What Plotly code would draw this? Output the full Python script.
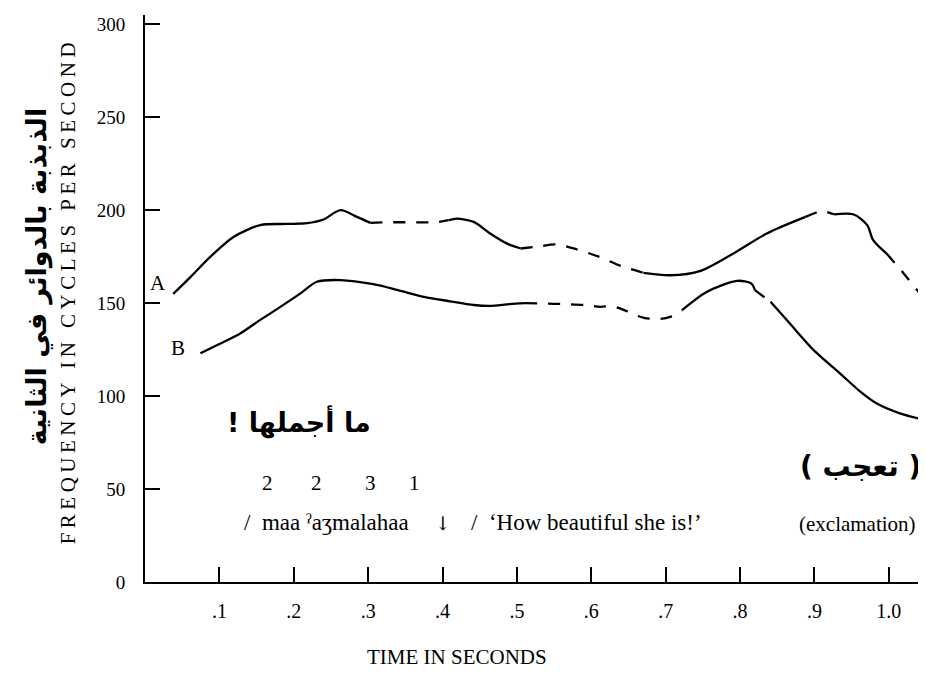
import plotly.graph_objects as go

# curve A: pitch contour (time in s, frequency in Hz)
a_time = [0.038, 0.061, 0.088, 0.119, 0.155, 0.19, 0.218, 0.240, 0.263, 0.285, 0.303,
          0.33, 0.36, 0.39, 0.408, 0.419, 0.442, 0.464, 0.487, 0.505,
          0.53, 0.552, 0.58, 0.61, 0.64, 0.670, 0.706, 0.747, 0.791, 0.836, 0.888,
          0.91, 0.926, 0.953, 0.971, 0.979, 0.997, 1.02, 1.046]
a_freq = [155, 164, 175, 185.6, 192, 192.6, 193, 195, 200, 196.4, 193.2,
          193.5, 193.5, 193.5, 194.6, 195.5, 193.7, 187.5, 182, 179.4,
          180.5, 181.6, 179, 175, 170, 166.3, 165, 167.4, 176.7, 187.5, 196.4,
          199.5, 197.8, 197.7, 192, 183.9, 176.7, 166, 153]
a_dashed = [(0.303, 0.408), (0.505, 0.670), (0.888, 0.926), (0.997, 1.05)]

# curve B
b_time = [0.0745, 0.10, 0.128, 0.155, 0.182, 0.21, 0.231, 0.263, 0.307, 0.34, 0.375,
          0.41, 0.442, 0.464, 0.49, 0.511, 0.536, 0.563, 0.592, 0.612, 0.628, 0.646,
          0.66, 0.672, 0.692, 0.706, 0.722, 0.755, 0.796, 0.815, 0.820, 0.841, 0.867,
          0.899, 0.935, 0.96, 0.984, 1.015, 1.05]
b_freq = [123, 128, 133.7, 141, 148, 155.5, 161.5, 162.4, 160.2, 157, 153.4,
          151, 149, 148.5, 149.5, 150, 149.8, 149.5, 149, 148, 148.4, 146,
          143.5, 142, 141.5, 142.6, 146.2, 156, 162, 160.6, 157, 150.7, 139,
          124.7, 112, 103, 96, 90.7, 87]
b_dashed = [(0.511, 0.722), (0.820, 0.841)]

x_ticks = [0.1, 0.2, 0.3, 0.4, 0.5, 0.6, 0.7, 0.8, 0.9, 1.0]
x_labels = ['.1', '.2', '.3', '.4', '.5', '.6', '.7', '.8', '.9', '1.0']
y_ticks = [0, 50, 100, 150, 200, 250, 300]

tone_marks = ['2', '2', '3', '1']
tone_time = [0.1645, 0.230, 0.303, 0.362]

SERIF = 'Liberation Serif, DejaVu Serif, serif'
ARABIC = 'DejaVu Sans, sans-serif'
RLE, PDF = '\u202b', '\u202c'


def split_runs(t, f, dashed):
    # group consecutive segments into solid / dashed runs
    def is_dash(i):
        mid = (t[i] + t[i + 1]) / 2
        return any(lo <= mid <= hi for lo, hi in dashed)

    runs = []
    cur = [0]
    style = is_dash(0)
    for i in range(len(t) - 1):
        s = is_dash(i)
        if s != style:
            runs.append((style, cur))
            cur = [i]
            style = s
        cur.append(i + 1)
    runs.append((style, cur))
    return [([t[k] for k in idx], [f[k] for k in idx], st) for st, idx in runs]


fig = go.Figure()

for t, f, dashed in [(a_time, a_freq, a_dashed), (b_time, b_freq, b_dashed)]:
    for xs, ys, st in split_runs(t, f, dashed):
        fig.add_trace(
            go.Scatter(
                x=xs, y=ys, mode='lines',
                line=dict(color='black', width=2.3, shape='spline', smoothing=0.8,
                          dash='12px,11px' if st else 'solid'),
                hoverinfo='skip', showlegend=False
            )
        )

ann = []
ann.append(dict(x=0.017, y=161, text='A', font=dict(size=21)))
ann.append(dict(x=0.045, y=126, text='B', font=dict(size=21)))
ann.append(dict(x=0.207, y=86, text=RLE + 'ما أجملها !' + PDF,
                font=dict(family=ARABIC, size=27, weight='bold')))
for m, tt in zip(tone_marks, tone_time):
    ann.append(dict(x=tt, y=53, text=m, font=dict(size=21)))
ann.append(dict(x=0.131, y=32, xanchor='left',
                text='/  maa ˀaʒmalahaa', font=dict(size=23)))
ann.append(dict(x=0.401, y=32, text='↓', font=dict(family='DejaVu Serif', size=19)))
ann.append(dict(x=0.436, y=32, xanchor='left',
                text='/  ‘How beautiful she is!’', font=dict(size=23)))
ann.append(dict(x=0.962, y=62, text=RLE + '( تعجب )' + PDF,
                font=dict(family=ARABIC, size=28, weight='bold')))
ann.append(dict(x=0.958, y=31, text='(exclamation)', font=dict(size=21)))

for a in ann:
    a.setdefault('xref', 'x')
    a.setdefault('yref', 'y')
    a.setdefault('showarrow', False)
    a['font'].setdefault('family', SERIF)
    a['font'].setdefault('color', 'black')
    fig.add_annotation(**a)

# axis titles
fig.add_annotation(x=0.42, xref='x', y=-0.132, yref='paper', yanchor='middle',
                   showarrow=False, text='TIME IN SECONDS',
                   font=dict(family=SERIF, size=21, color='black'))
fig.add_annotation(x=-0.117, xref='paper', y=0.512, yref='paper', showarrow=False,
                   textangle=-90,
                   text='<span style="letter-spacing:4.5px">FREQUENCY IN CYCLES PER SECOND</span>',
                   font=dict(family=SERIF, size=21, color='black'))
fig.add_annotation(x=-0.162, xref='paper', y=0.54, yref='paper', showarrow=False,
                   textangle=-90, text='الذبذبة بالدوائر في الثانية',
                   font=dict(family=ARABIC, size=27, weight='bold', color='black'))

fig.update_xaxes(
    range=[0, 1.05], showline=True, linecolor='black', linewidth=2,
    tickmode='array', tickvals=x_ticks, ticktext=x_labels,
    ticks='inside', ticklen=15, tickwidth=2, tickcolor='black',
    ticklabelstandoff=10, showgrid=False, zeroline=False, automargin=False,
    tickfont=dict(family=SERIF, size=20, color='black')
)
fig.update_yaxes(
    range=[0, 305], showline=True, linecolor='black', linewidth=2,
    tickmode='array', tickvals=y_ticks,
    ticks='inside', ticklen=15, tickwidth=2, tickcolor='black',
    ticklabelstandoff=14, showgrid=False, zeroline=False, automargin=False,
    tickfont=dict(family=SERIF, size=19, color='black')
)

# the page body adds an 8px margin, so the figure is drawn 8px smaller
fig.update_layout(
    width=918, height=667,
    margin=dict(l=137, r=0, t=7, b=93),
    plot_bgcolor='white', paper_bgcolor='white',
    showlegend=False
)

fig.write_html("out.html")
